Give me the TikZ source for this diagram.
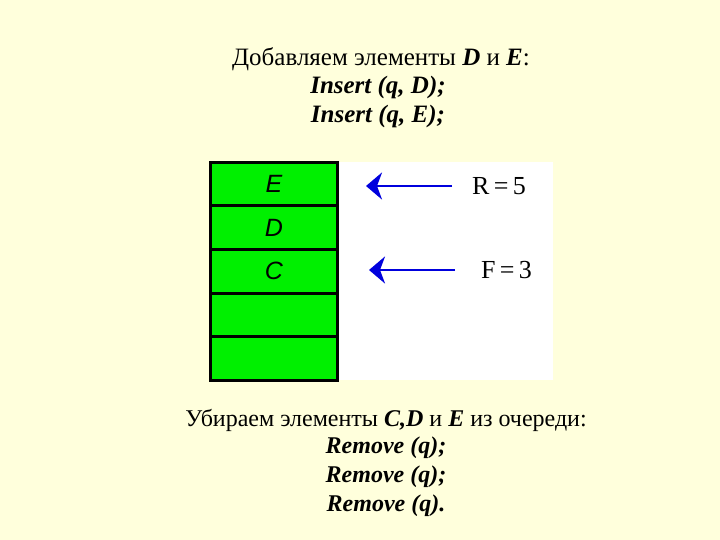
\documentclass[tikz,border=0pt]{standalone}
\usepackage{fontspec}
\setmainfont{Liberation Serif}
\newfontfamily\cellfont{Liberation Sans}
\usetikzlibrary{arrows.meta,positioning}
\definecolor{bgyellow}{HTML}{FFFFDC}
\definecolor{cellgreen}{HTML}{00F000}
\definecolor{ptrblue}{HTML}{0000DD}

\begin{document}
\begin{tikzpicture}[x=1pt,y=-1pt,
  cell/.style={draw=black,line width=3pt,fill=cellgreen,minimum width=127pt,
    minimum height=43.6pt,inner sep=0pt,outer sep=0pt,
    font=\cellfont\itshape\fontsize{25}{29}\selectfont},
  txt/.style={font=\fontsize{25}{30}\selectfont,inner sep=0pt},
  ftxt/.style={font=\fontsize{24}{29}\selectfont,inner sep=0pt},
  ptr/.style={ptrblue,line width=2.8pt,-{Stealth[length=16pt,width=27pt,inset=5pt]}},
  lbl/.style={font=\fontsize{26}{30}\selectfont,anchor=west,inner sep=0pt}]
  % background and white panel
  \fill[bgyellow] (0,0) rectangle (720,540);
  \fill[white] (339,162) rectangle (553,380);
  % header text
  \node[txt] (head) at (381,59) {Добавляем элементы \textbf{\textit{D}} и \textbf{\textit{E}}:};
  \node[txt] (ins1) at (378,87) {\textbf{\textit{Insert (q, D);}}};
  \node[txt] (ins2) at (378,116) {\textbf{\textit{Insert (q, E);}}};
  % queue cells
  \node[cell] (c5) at (274,184) {E};
  \node[cell,below=0pt of c5] (c4) {D};
  \node[cell,below=0pt of c4] (c3) {C};
  \node[cell,below=0pt of c3] (c2) {};
  \node[cell,below=0pt of c2] (c1) {};
  % rear and front pointers
  \node[lbl] (rear) at (472,186) {R\,=\,5};
  \coordinate (rtail) at (452,186);
  \coordinate (rtip) at (366,186);
  \draw[ptr] (rtail) -- (rtip);
  \node[lbl] (front) at (481,270) {F\,=\,3};
  \coordinate (ftail) at (455,270);
  \coordinate (ftip) at (369,270);
  \draw[ptr] (ftail) -- (ftip);
  % footer text
  \node[ftxt] (foot) at (386,420) {Убираем элементы \textbf{\textit{C,D}} и \textbf{\textit{E}} из очереди:};
  \node[ftxt] (rem1) at (386,448) {\textbf{\textit{Remove (q);}}};
  \node[ftxt] (rem2) at (386,477) {\textbf{\textit{Remove (q);}}};
  \node[ftxt] (rem3) at (386,506) {\textbf{\textit{Remove (q).}}};
\end{tikzpicture}
\end{document}
